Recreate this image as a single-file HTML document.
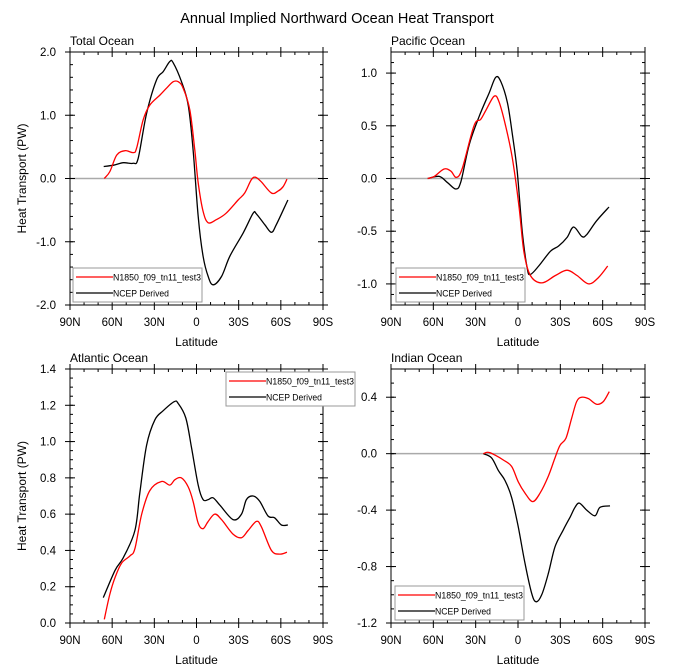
<!DOCTYPE html>
<html><head><meta charset="utf-8"><style>
html,body{margin:0;padding:0;background:#fff;}
svg{display:block;font-family:"Liberation Sans",Arial,sans-serif;}
</style></head><body>
<svg id="fig" width="673" height="672" viewBox="0 0 673 672" xmlns="http://www.w3.org/2000/svg">
<text x="337" y="23" text-anchor="middle" font-size="14.5">Annual Implied Northward Ocean Heat Transport</text>
</svg>
<script>
// x tick labels
const xTickLats=[90,60,30,0,-30,-60,-90];
const xTickLabels=["90N","60N","30N","0","30S","60S","90S"];
// Total Ocean
const totLatR=[65.6,61.6,56.8,50.9,45,42.6,37.9,33.2,26,21.3,16.6,13,9.5,4.7,1.2,-1.2,-4.7,-8.3,-14.2,-21,-29.6,-34.3,-39,-42,-46,-53.3,-58,-61.6,-64.4];
const totValR=[0.0,0.11,0.37,0.44,0.41,0.48,0.93,1.16,1.32,1.43,1.53,1.53,1.43,1.08,0.45,-0.07,-0.52,-0.7,-0.65,-0.55,-0.34,-0.23,-0.02,0.02,-0.05,-0.23,-0.2,-0.13,-0.01];
const totLatB=[66,59,52,45,41.5,35.5,28.4,23.7,19,16.6,10.7,5.9,2.4,-1.2,-4.7,-8.3,-11.8,-17.8,-23.7,-33.2,-40.3,-42.6,-48.6,-53.3,-56.8,-65];
const totValB=[0.19,0.21,0.25,0.24,0.32,1.03,1.56,1.69,1.85,1.83,1.53,1.16,0.45,-0.6,-1.23,-1.55,-1.68,-1.55,-1.23,-0.86,-0.55,-0.56,-0.73,-0.85,-0.73,-0.34];
// Pacific Ocean
const pacLatR=[64,59.3,52.4,47.6,43.6,39.4,31.2,26.5,23,17,13.5,8.8,4.1,-0.6,-4.1,-8.8,-17,-26.5,-34.7,-41.8,-50,-57,-63.6];
const pacValR=[0,0.02,0.09,0.07,0.01,0.1,0.5,0.56,0.64,0.78,0.73,0.5,0.2,-0.25,-0.69,-0.92,-0.99,-0.92,-0.87,-0.92,-1.0,-0.94,-0.83];
const pacLatB=[64,55.8,49.9,44,40.5,34.6,27.5,20.5,15.8,12.2,7.5,4.1,0.6,-3,-6.5,-8.8,-14.7,-23,-28.8,-34.7,-39.4,-45.3,-48.8,-55.8,-64.5];
const pacValB=[0,0.02,-0.04,-0.1,-0.03,0.32,0.59,0.81,0.96,0.92,0.72,0.43,0.07,-0.5,-0.85,-0.91,-0.83,-0.69,-0.64,-0.56,-0.46,-0.55,-0.53,-0.4,-0.27];
// Atlantic Ocean
const atlLatR=[65.6,61.6,58,53.3,47.4,43.8,39,33.2,24.9,19,15.4,10.7,5.9,2.4,-1.2,-4.7,-8.3,-13,-17.8,-26,-32,-36.7,-42.6,-46.2,-53.3,-59.2,-64.4];
const atlValR=[0.02,0.16,0.25,0.33,0.37,0.41,0.6,0.73,0.78,0.76,0.79,0.8,0.75,0.67,0.55,0.52,0.56,0.6,0.57,0.49,0.47,0.51,0.56,0.53,0.4,0.38,0.39];
const atlLatB=[66.3,58,52.1,43.8,40.3,35.5,29.6,23.7,15.9,13,7.6,3.6,-1.2,-4.7,-8.3,-11.8,-16.6,-26,-32,-35.5,-40.3,-45,-50.9,-55.6,-60.4,-65];
const atlValB=[0.14,0.29,0.36,0.51,0.72,0.98,1.12,1.17,1.22,1.21,1.13,0.97,0.76,0.68,0.68,0.69,0.65,0.57,0.6,0.68,0.70,0.67,0.59,0.58,0.54,0.54];
// Indian Ocean
const indLatR=[24.6,21,16.3,10.4,4.5,-0.2,-5,-10.4,-15.6,-21.5,-26.2,-29.8,-34,-38,-41.6,-45.1,-49.9,-55.8,-60.5,-64.7];
const indValR=[0,0.01,-0.01,-0.045,-0.09,-0.2,-0.28,-0.34,-0.28,-0.16,-0.03,0.06,0.11,0.25,0.37,0.4,0.39,0.35,0.37,0.44];
const indLatB=[24.6,18.7,13.9,9.2,4.5,-0.2,-5,-9.7,-12.8,-16.8,-21.5,-26.2,-32.1,-36.9,-40.4,-43.5,-48.7,-54.6,-58.1,-65.2];
const indValB=[0,-0.03,-0.12,-0.19,-0.31,-0.52,-0.78,-0.99,-1.05,-1.0,-0.85,-0.66,-0.54,-0.45,-0.38,-0.35,-0.4,-0.44,-0.38,-0.37];
// y tick labels per panel
const totYTicks=[-2,-1,0,1,2];
const totYLabels=["-2.0","-1.0","0.0","1.0","2.0"];
const pacYTicks=[-1,-0.5,0,0.5,1];
const pacYLabels=["-1.0","-0.5","0.0","0.5","1.0"];
const atlYTicks=[0,0.2,0.4,0.6,0.8,1.0,1.2,1.4];
const atlYLabels=["0.0","0.2","0.4","0.6","0.8","1.0","1.2","1.4"];
const indYTicks=[-1.2,-0.8,-0.4,0,0.4];
const indYLabels=["-1.2","-0.8","-0.4","0.0","0.4"];
const legendLabels=["N1850_f09_tn11_test3","NCEP Derived"];

const NS="http://www.w3.org/2000/svg";
const svg=document.getElementById('fig');
function mk(tag,attrs,parent){const e=document.createElementNS(NS,tag);for(const k in attrs)e.setAttribute(k,attrs[k]);(parent||svg).appendChild(e);return e;}

function smoothPath(pts){
  let d='M'+pts[0][0].toFixed(1)+','+pts[0][1].toFixed(1);
  for(let i=0;i<pts.length-1;i++){
    const p0=pts[Math.max(0,i-1)],p1=pts[i],p2=pts[i+1],p3=pts[Math.min(pts.length-1,i+2)];
    const c1=[p1[0]+(p2[0]-p0[0])/6,p1[1]+(p2[1]-p0[1])/6];
    const c2=[p2[0]-(p3[0]-p1[0])/6,p2[1]-(p3[1]-p1[1])/6];
    d+='C'+c1[0].toFixed(1)+','+c1[1].toFixed(1)+' '+c2[0].toFixed(1)+','+c2[1].toFixed(1)+' '+p2[0].toFixed(1)+','+p2[1].toFixed(1);
  }
  return d;
}

function panel(o){
  const g=mk('g',{});
  
  
  const X=lat=>o.x0+(90-lat)/180*(o.x1-o.x0);
  const Y=v=>o.y1-(v-o.ymin)/(o.ymax-o.ymin)*(o.y1-o.y0);
  const t=mk('text',{x:o.x0,y:o.y0-7,'font-size':12},g);t.textContent=o.title;
  
  
  if(o.zero){const z=mk('line',{x1:o.x0,x2:o.x1,y1:Y(0),y2:Y(0),stroke:'#aaa','stroke-width':1.5},g);
    
    }
  function series(lats,vals,col,nm){
    const pts=lats.map((la,i)=>[X(la),Y(vals[i])]);
    const p=mk('path',{d:smoothPath(pts),fill:'none',stroke:col,'stroke-width':1.3,'stroke-linejoin':'round'},g);
    
    
  }
  series(o.latB,o.valB,'#000',o.key+'-ncep-line');
  series(o.latR,o.valR,'#f00',o.key+'-model-line');
  const b=mk('rect',{x:o.x0,y:o.y0,width:o.x1-o.x0,height:o.y1-o.y0,fill:'none',stroke:'#000','stroke-width':1},g);
  
  
  for(let la=90;la>=-90;la-=10){
    const x=X(la),maj=(la%30===0);const L=maj?5:3;
    mk('line',{x1:x,x2:x,y1:o.y1+(maj?5:0),y2:o.y1-L,stroke:'#000','stroke-width':1},g);
    mk('line',{x1:x,x2:x,y1:o.y0-(maj?5:0),y2:o.y0+L,stroke:'#000','stroke-width':1},g);
  }
  xTickLats.forEach((la,i)=>{const tx=mk('text',{x:X(la),y:o.y1+21,'font-size':11.5,'text-anchor':'middle'},g);tx.textContent=xTickLabels[i];
    
    });
  const xl=mk('text',{x:(o.x0+o.x1)/2,y:o.y1+41,'font-size':12,'text-anchor':'middle'},g);xl.textContent='Latitude';
  
  
  const n=Math.round((o.ymax-o.ymin)/o.minor);
  for(let i=0;i<=n;i++){const y=Y(o.ymin+i*o.minor);
    mk('line',{x1:o.x0,x2:o.x0+3,y1:y,y2:y,stroke:'#000'},g);
    mk('line',{x1:o.x1,x2:o.x1-3,y1:y,y2:y,stroke:'#000'},g);}
  o.yt.forEach((v,i)=>{const y=Y(v);
    mk('line',{x1:o.x0-5,x2:o.x0+5,y1:y,y2:y,stroke:'#000'},g);
    mk('line',{x1:o.x1-5,x2:o.x1+5,y1:y,y2:y,stroke:'#000'},g);
    const ty=mk('text',{x:o.x0-14,y:y+4,'font-size':11.5,'text-anchor':'end'},g);ty.textContent=o.yl[i];
    
    });
  if(o.ytitle){const yt=mk('text',{x:0,y:0,'font-size':12,'text-anchor':'middle',transform:'translate(26,'+((o.y0+o.y1)/2)+') rotate(-90)'},g);yt.textContent='Heat Transport (PW)';
    
    }
  const lg=mk('g',{},g);
  
  
  mk('rect',{x:o.lx,y:o.ly,width:129,height:34,fill:'#fff',stroke:'#999','stroke-width':1},lg);
  [['#f00',legendLabels[0],88],['#000',legendLabels[1],56]].forEach((e,i)=>{
    const yy=o.ly+9+i*16;
    mk('line',{x1:o.lx+3,x2:o.lx+40,y1:yy,y2:yy,stroke:e[0],'stroke-width':1.3},lg);
    const tt=mk('text',{x:o.lx+40,y:yy+3.5,'font-size':9.5,textLength:e[2],lengthAdjust:'spacingAndGlyphs'},lg);tt.textContent=e[1];
    
    
  });
}
panel({key:'total-ocean',title:'Total Ocean',x0:70,x1:323,y0:52,y1:305,ymin:-2,ymax:2,minor:0.2,yt:totYTicks,yl:totYLabels,zero:true,ytitle:true,latR:totLatR,valR:totValR,latB:totLatB,valB:totValB,lx:73,ly:268});
panel({key:'pacific-ocean',title:'Pacific Ocean',x0:391,x1:645,y0:52,y1:305,ymin:-1.2,ymax:1.2,minor:0.1,yt:pacYTicks,yl:pacYLabels,zero:true,ytitle:false,latR:pacLatR,valR:pacValR,latB:pacLatB,valB:pacValB,lx:396,ly:268});
panel({key:'atlantic-ocean',title:'Atlantic Ocean',x0:70,x1:323,y0:369,y1:623,ymin:0,ymax:1.4,minor:0.05,yt:atlYTicks,yl:atlYLabels,zero:false,ytitle:true,latR:atlLatR,valR:atlValR,latB:atlLatB,valB:atlValB,lx:226,ly:372});
panel({key:'indian-ocean',title:'Indian Ocean',x0:391,x1:645,y0:369,y1:623,ymin:-1.2,ymax:0.6,minor:0.1,yt:indYTicks,yl:indYLabels,zero:true,ytitle:false,latR:indLatR,valR:indValR,latB:indLatB,valB:indValB,lx:395,ly:586});
</script>
</body></html>
